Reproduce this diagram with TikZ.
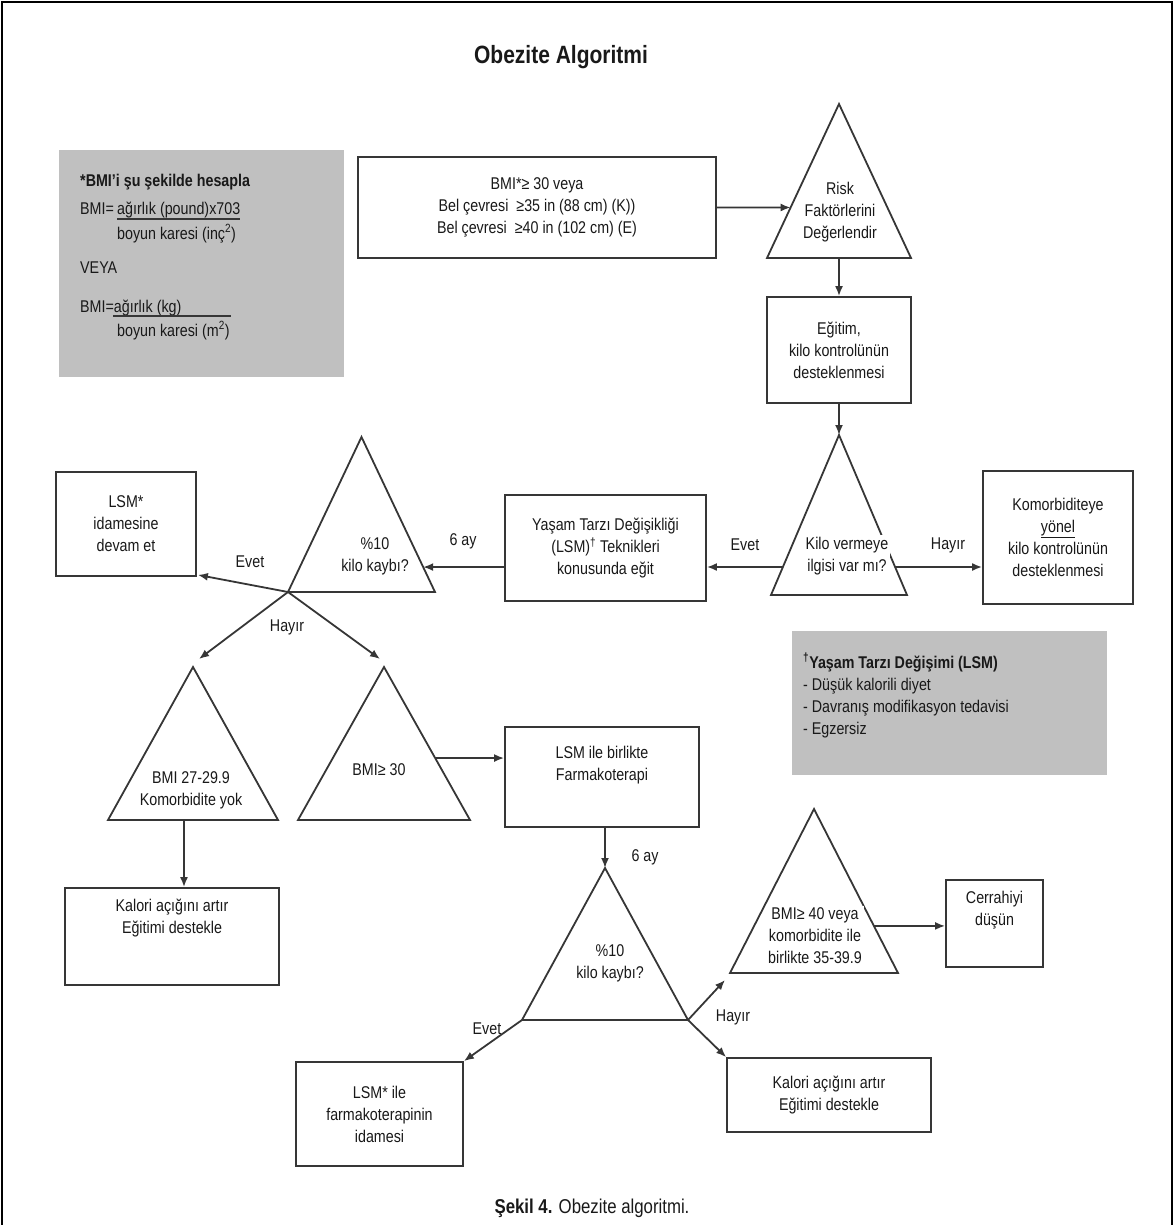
\documentclass[tikz,border=0pt]{standalone}
\usepackage{fontspec}
\setmainfont{Liberation Sans}[FakeStretch=0.84]
\usetikzlibrary{arrows.meta,calc}
\definecolor{linec}{HTML}{363636}
\definecolor{graybg}{HTML}{C0C0C0}
\newcommand\mytri[5]{%
  \coordinate (#1-t) at (#2,#3);
  \coordinate (#1-l) at (#2-#4,#5);
  \coordinate (#1-r) at (#2+#4,#5);
  \draw[line, line join=miter] (#1-t) -- (#1-l) -- (#1-r) -- cycle;}
\begin{document}
\begin{tikzpicture}[x=1pt,y=-1pt,
  every node/.style={font=\fontsize{17}{22}\selectfont, text=black!90},
  line/.style={draw=linec, line width=1.8pt},
  arr/.style={line, -{Latex[length=10pt,width=8pt]}},
  box/.style={draw=linec, line width=1.8pt, fill=white, inner sep=0pt, align=center},
  lbl/.style={inner sep=1pt},
  note/.style={anchor=base west, inner sep=0pt}]
\useasboundingbox (0,0) rectangle (1174,1225);
% frame
\draw[black, line width=2.5pt] (2,1226) -- (2,2) -- (1172,2) -- (1172,1226);

% title
\node (title) at (561,57) {\fontsize{25}{30}\selectfont\bfseries Obezite Algoritmi};

% gray note 1
\fill[graybg] (59,150) rectangle (344,377);
\node[note] (n1a) at (80,186) {\bfseries *BMI'i şu şekilde hesapla};
\node[note] (n1b) at (80,214) {BMI=};
\node[note] (n1b2) at (117,214) {ağırlık (pound)x703};
\draw[linec, line width=1.5pt] (117,219) -- (240,219);
\node[note] (n1c) at (117,239) {boyun karesi (inç\textsuperscript{2})};
\node[note] (n1d) at (80,273) {VEYA};
\node[note] (n1e) at (80,312) {BMI=ağırlık (kg)};
\draw[linec, line width=1.5pt] (113,316) -- (231,316);
\node[note] (n1f) at (117,336) {boyun karesi (m\textsuperscript{2})};

% gray note 2
\fill[graybg] (792,631) rectangle (1107,775);
\node[note] (n2a) at (803,668) {\bfseries\textsuperscript{†}Yaşam Tarzı Değişimi (LSM)};
\node[note] (n2b) at (803,690) {- Düşük kalorili diyet};
\node[note] (n2c) at (803,712) {- Davranış modifikasyon tedavisi};
\node[note] (n2d) at (803,734) {- Egzersiz};

% boxes
\node[box, minimum width=358, minimum height=101] (box1) at (537,207.5)
  {\fontsize{17}{17}\selectfont BMI*≥ 30 veya\\Bel çevresi\ \ ≥35 in (88 cm) (K))\\Bel çevresi\ \ ≥40 in (102 cm) (E)};
\node[box, minimum width=144, minimum height=106] (box2) at (839,350)
  {Eğitim,\\kilo kontrolünün\\desteklenmesi};
\node[box, minimum width=201, minimum height=106] (box3) at (605.5,548)
  {Yaşam Tarzı Değişikliği\\(LSM)\textsuperscript{†} Teknikleri\\konusunda eğit};
\node[box, minimum width=150, minimum height=133] (box4) at (1058,537.5)
  {Komorbiditeye\\\underline{yönel}\\kilo kontrolünün\\desteklenmesi};
\node[box, minimum width=140, minimum height=104] (lsm) at (126,524)
  {LSM*\\idamesine\\devam et};
\node[box, minimum width=214, minimum height=97] (box5) at (172,936.5)
  {Kalori açığını artır\\Eğitimi destekle\\[18pt]};
\node[box, minimum width=194, minimum height=100] (box6) at (602,777)
  {LSM ile birlikte\\Farmakoterapi\\[6pt]};
\node[box, minimum width=97, minimum height=87] (box7) at (994.5,923.5)
  {Cerrahiyi\\düşün\\[8pt]};
\node[box, minimum width=204, minimum height=74] (box8) at (829,1095)
  {Kalori açığını artır\\Eğitimi destekle};
\node[box, minimum width=167, minimum height=104] (box9) at (379.5,1114)
  {LSM* ile\\farmakoterapinin\\idamesi};

% triangles
\mytri{T1}{839}{104}{72}{258}
\mytri{T3}{839}{435}{68}{595}
\mytri{T2}{361.5}{437}{73.5}{592}
\mytri{T4}{193}{667}{85}{820}
\mytri{T5}{384}{667}{86}{820}
\mytri{T6}{605}{868}{83}{1020}
\mytri{T7}{814}{809}{84}{973}

\node[align=center] (t1txt) at (840,212) {Risk\\Faktörlerini\\Değerlendir};
\node[align=center, fill=white, inner sep=2pt] (t3txt) at (847,556) {Kilo vermeye\\ilgisi var mı?};
\node[align=center] (t2txt) at (375,556) {\%10\\kilo kaybı?};
\node[align=center, fill=white, inner sep=1pt] (t4txt) at (191,790) {BMI 27-29.9\\Komorbidite yok};
\node (t5txt) at (379,770) {BMI≥ 30};
\node[align=center] (t6txt) at (610,963) {\%10\\kilo kaybı?};
\node[align=center, fill=white, inner sep=2pt] (t7txt) at (815,936) {BMI≥ 40 veya\\komorbidite ile\\birlikte 35-39.9};

% connector points on triangle sides
\coordinate (t1l) at ($(T1-t)!0.672!(T1-l)$);
\coordinate (t3l) at ($(T3-t)!0.825!(T3-l)$);
\coordinate (t3r) at ($(T3-t)!0.825!(T3-r)$);
\coordinate (t2r) at ($(T2-t)!0.839!(T2-r)$);
\coordinate (t4b) at ($(T4-l)!0.447!(T4-r)$);
\coordinate (t5r) at ($(T5-t)!0.595!(T5-r)$);
\coordinate (t7r) at ($(T7-t)!0.713!(T7-r)$);

% connectors
\draw[arr] (box1.east) -- (t1l);
\draw[arr] (box2.north |- T1-l) -- (box2.north);
\draw[arr] (box2.south) -- (T3-t);
\draw[arr] (t3l) -- (t3l -| box3.east);
\draw[arr] (t3r) -- (t3r -| box4.west);
\draw[arr] (t2r -| box3.west) -- (t2r);
\draw[arr] (T2-l) -- ($(lsm.south east)+(1,-2)$);
\draw[arr] (T2-l) -- ($(T4-t)+(6,-8)$);
\draw[arr] (T2-l) -- ($(T5-t)+(-4,-8)$);
\draw[arr] (t4b) -- (t4b |- box5.north);
\draw[arr] (t5r) -- (t5r -| box6.west);
\draw[arr] (T6-t |- box6.south) -- (T6-t);
\draw[arr] (T6-r) -- ($(T7-l)+(-5,7)$);
\draw[arr] (t7r) -- (t7r -| box7.west);
\draw[arr] (T6-r) -- (box8.north west);
\draw[arr] (T6-l) -- (box9.north east);

% labels
\node[lbl] (l1) at (745,545) {Evet};
\node[lbl] (l2) at (948,545) {Hayır};
\node[lbl] (l3) at (463,541) {6 ay};
\node[lbl] (l4) at (250,562) {Evet};
\node[lbl] (l5) at (287,627) {Hayır};
\node[lbl] (l6) at (645,857) {6 ay};
\node[lbl] (l7) at (733,1017) {Hayır};
\node[lbl] (l8) at (487,1029) {Evet};

% caption
\node (cap) at (592,1208) {\fontsize{20}{23}\selectfont\textbf{Şekil 4.} Obezite algoritmi.};
\end{tikzpicture}
\end{document}
